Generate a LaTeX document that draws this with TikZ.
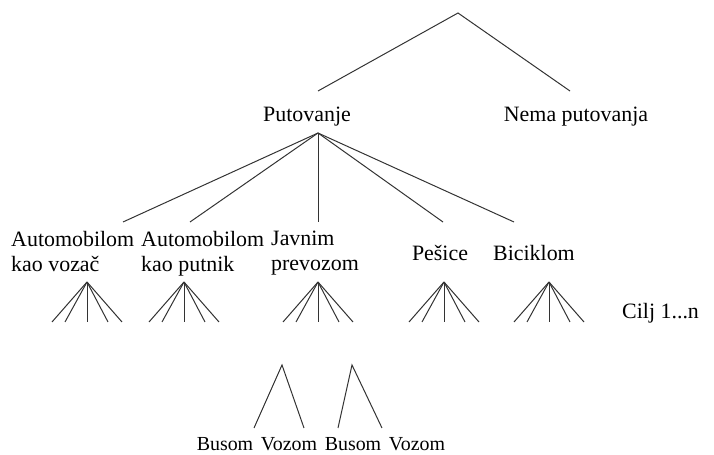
\documentclass[tikz,border=0pt]{standalone}
\usepackage{fontspec}
\setmainfont{Liberation Serif}
\usetikzlibrary{positioning}
\tikzset{
  branch/.style={line width=0.85pt, color=black!80},
  lbl/.style={inner sep=0pt, font=\fontsize{18.7}{21.3}\selectfont},
  leaflbl/.style={lbl, anchor=base, font=\fontsize{17}{20}\selectfont}
}

\begin{document}
\begin{tikzpicture}[x=0.03cm, y=-0.03cm]
			%%%%% START %%%%%
			\useasboundingbox (0,0) rectangle (714,455);
			
			% top level
			\coordinate (root) at (458,13);
			\coordinate (legl) at (318,91);
			\coordinate (legr) at (570,91);
			\draw[branch] (legl) -- (root) -- (legr);
			\node[lbl] (putovanje) at (307,117) {Putovanje};
			\node[lbl] (nema) at (576,117) {Nema putovanja};
			
			% modes
			\coordinate (putfan) at (318,133);
			\node[lbl, align=left, anchor=north west] (vozac) at (11,231) {Automobilom\\kao vozač};
			\node[lbl, align=left, anchor=north west] (putnik) at (141,231) {Automobilom\\kao putnik};
			\node[lbl, align=left, anchor=north west] (javni) at (271,231) {Javnim\\prevozom};
			\node[lbl] (pesice) at (440,253) {Pešice};
			\node[lbl] (bicikl) at (534,253) {Biciklom};
			\node[lbl, anchor=west] (cilj) at (622,313) {Cilj 1...n};
			
			\foreach \i/\e/\a in {1/123/87, 2/190/184, 3/318/318, 4/443/444, 5/514/549} {
				\coordinate (mode\i) at (\e,222);
				\draw[branch] (putfan) -- (mode\i);
				\coordinate (goal\i) at (\a,282);
				\foreach \dx in {-35,-22,0,21,35}
					\draw[branch] (goal\i) -- ++(\dx,40);
			}
			
			% public transport split
			\coordinate (split1) at (282,365);
			\coordinate (split2) at (352,365);
			\node[leaflbl] (bus1) at (225,451) {Busom};
			\node[leaflbl] (voz1) at (289,451) {Vozom};
			\node[leaflbl] (bus2) at (353,451) {Busom};
			\node[leaflbl] (voz2) at (417,451) {Vozom};
			\draw[branch] (254,428) -- (split1) -- (304,428);
			\draw[branch] (338,428) -- (split2) -- (382,428);
			
			%%%%% END %%%%%
\end{tikzpicture}
\end{document}
